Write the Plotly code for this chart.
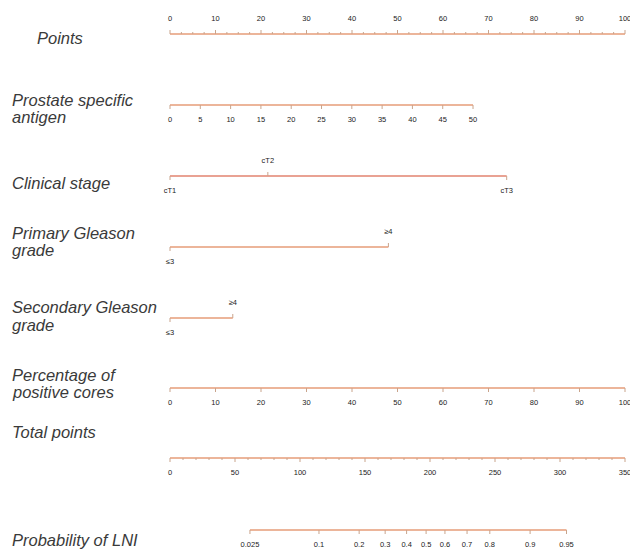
import plotly.graph_objects as go

# ---------------- data ----------------
points_ticks = [0, 10, 20, 30, 40, 50, 60, 70, 80, 90, 100]
points_minor_step = 2.5

psa_ticks = [0, 5, 10, 15, 20, 25, 30, 35, 40, 45, 50]
psa_points_at_max = 66.6          # points for PSA = 50

stage_labels = ["cT1", "cT2", "cT3"]
stage_points = [0.0, 21.5, 74.0]

pg_labels = ["≤3", "≥4"]
pg_points = [0.0, 48.0]

sg_labels = ["≤3", "≥4"]
sg_points = [0.0, 13.8]

cores_ticks = [0, 10, 20, 30, 40, 50, 60, 70, 80, 90, 100]
cores_points_at_max = 100.0

total_ticks = [0, 50, 100, 150, 200, 250, 300, 350]
total_minor_step = 10
total_max = 350

prob_labels = ["0.025", "0.1", "0.2", "0.3", "0.4", "0.5", "0.6", "0.7", "0.8", "0.9", "0.95"]
prob_total_points = [61.5, 114.6, 145.5, 165.5, 182.0, 197.0, 211.5, 228.5, 246.0, 277.0, 305.0]

row_names = [
    ["Points"],
    ["Prostate specific", "antigen"],
    ["Clinical stage"],
    ["Primary Gleason", "grade"],
    ["Secondary Gleason", "grade"],
    ["Percentage of", "positive cores"],
    ["Total points"],
    ["Probability of LNI"],
]

# ---------------- layout / style ----------------
W, H = 630, 549
X0_PX, PX_PER_PT = 170, 4.55
row_y = [34, 105, 176, 247, 318, 388, 458, 530]
name_y = [[38], [100, 117], [183], [233, 250], [307, 325], [375, 392], [432], [540]]
name_x = [35, 10, 10, 10, 10, 10, 10, 10]
LINE = "#E69C78"
LINE2 = "#E2836F"
TICK = "#C9A48C"
TXT = "#3a3a3a"
TICK_LEN = 4
LBL_OFF = 15
fsz = 7.5

fig = go.Figure()


def add_axis(y, xs, labels, up_flags, color=LINE, minors=None):
    xmin, xmax = min(xs + (minors or [])), max(xs + (minors or []))
    fig.add_trace(go.Scatter(x=[xmin, xmax], y=[y, y], mode="lines",
                             line=dict(color=color, width=1.6), hoverinfo="skip"))
    tx, ty = [], []
    for x, up in zip(xs, up_flags):
        tx += [x, x, None]
        ty += [y, y - TICK_LEN if up else y + TICK_LEN, None]
    if minors:
        for x in minors:
            tx += [x, x, None]
            ty += [y, y - 2 if up_flags[0] else y + 2, None]
    fig.add_trace(go.Scatter(x=tx, y=ty, mode="lines",
                             line=dict(color=TICK, width=1), hoverinfo="skip"))
    lx, ly = [], []
    for x, up in zip(xs, up_flags):
        lx.append(x)
        ly.append(y - LBL_OFF if up else y + LBL_OFF)
    fig.add_trace(go.Scatter(x=lx, y=ly, mode="text", text=labels,
                             textfont=dict(size=fsz, color="#222222", family="Liberation Sans"),
                             hoverinfo="skip"))


# Points
minor_pts = []
v = 0.0
while v <= 100:
    if v not in points_ticks:
        minor_pts.append(v)
    v += points_minor_step
add_axis(row_y[0], points_ticks, [str(t) for t in points_ticks],
         [True] * len(points_ticks), minors=minor_pts)

# PSA
add_axis(row_y[1], [t / psa_ticks[-1] * psa_points_at_max for t in psa_ticks],
         [str(t) for t in psa_ticks], [False] * len(psa_ticks))

# Clinical stage
add_axis(row_y[2], stage_points, stage_labels, [False, True, False], color=LINE2)

# Primary Gleason
add_axis(row_y[3], pg_points, pg_labels, [False, True])

# Secondary Gleason
add_axis(row_y[4], sg_points, sg_labels, [False, True])

# Cores
add_axis(row_y[5], [t / cores_ticks[-1] * cores_points_at_max for t in cores_ticks],
         [str(t) for t in cores_ticks], [False] * len(cores_ticks))

# Total points
scale_tp = 100.0 / total_max
minor_tp = [t * scale_tp for t in range(0, total_max + 1, total_minor_step) if t not in total_ticks]
add_axis(row_y[6], [t * scale_tp for t in total_ticks], [str(t) for t in total_ticks],
         [False] * len(total_ticks), minors=minor_tp)

# Probability
add_axis(row_y[7], [t * scale_tp for t in prob_total_points], prob_labels,
         [False] * len(prob_labels))

# Row names
annos = []
for lines, ys, nx in zip(row_names, name_y, name_x):
    for txt, yy in zip(lines, ys):
        annos.append(dict(x=nx / W, y=yy, xref="paper", yref="y", text=f"<i>{txt}</i>",
                          showarrow=False, xanchor="left", yanchor="middle",
                          font=dict(size=16.5, color=TXT, family="Liberation Sans")))

x_lo = -X0_PX / PX_PER_PT
x_hi = x_lo + W / PX_PER_PT

fig.update_layout(
    width=W, height=H,
    margin=dict(l=0, r=0, t=0, b=0),
    paper_bgcolor="white", plot_bgcolor="white",
    showlegend=False,
    xaxis=dict(range=[x_lo, x_hi], visible=False, fixedrange=True),
    yaxis=dict(range=[H, 0], visible=False, fixedrange=True),
    annotations=annos,
)

fig.write_html("out.html")
